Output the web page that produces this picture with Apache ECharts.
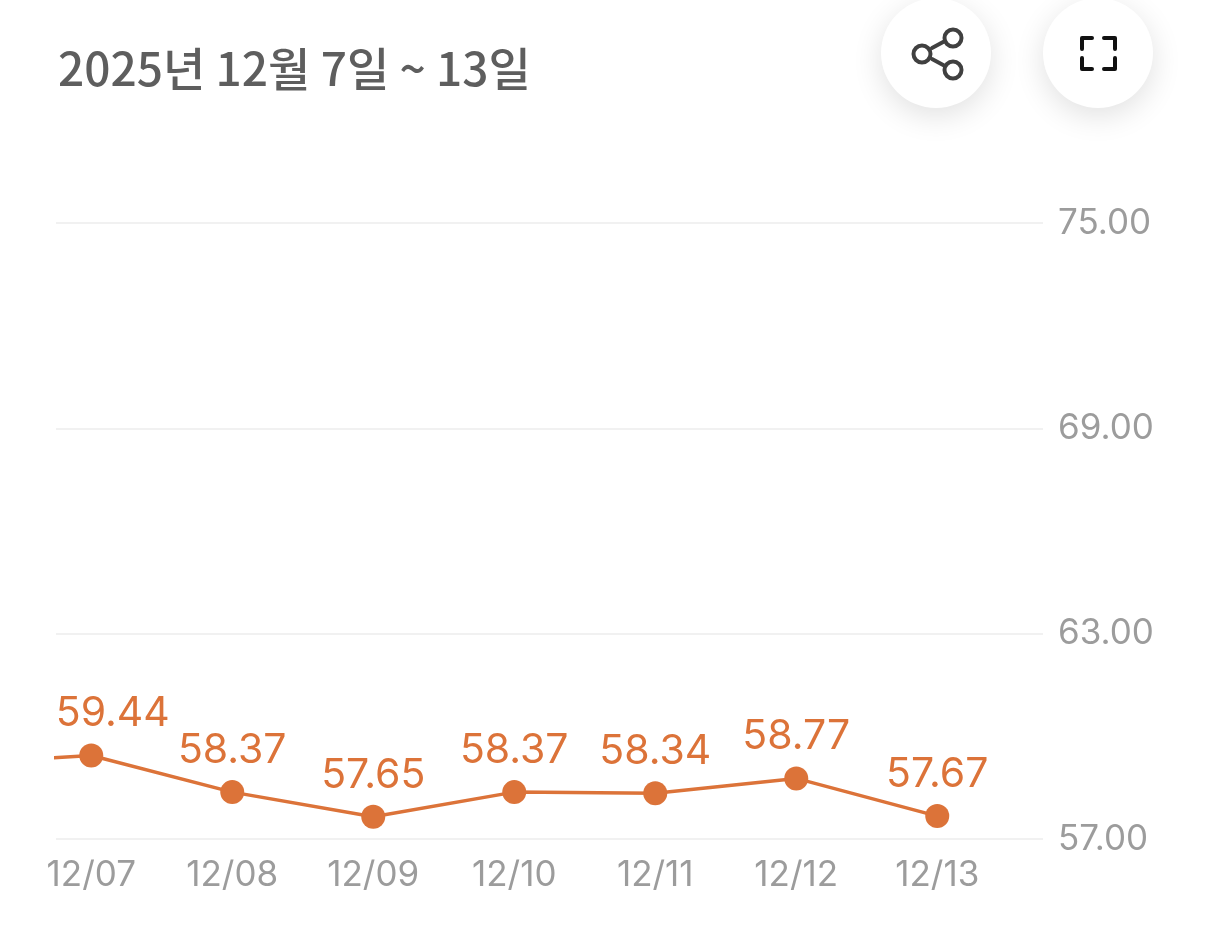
<!DOCTYPE html>
<html><head><meta charset="utf-8">
<style>html,body{margin:0;padding:0;background:#fff}#c{width:1206px;height:944px}</style>
<script src="https://cdn.jsdelivr.net/npm/echarts@6/dist/echarts.min.js"></script>
</head><body><div id="c"></div>
<script>
const titleText = '2025년 12월 7일 ~ 13일';
const categories = ['12/07','12/08','12/09','12/10','12/11','12/12','12/13'];
const values = [59.44,58.37,57.65,58.37,58.34,58.77,57.67];
const previousValue = 59.2; // point before the window, only its line segment is visible
const yTicks = [57,63,69,75];
const color = '#DC7339';
const font = 'Inter, "Noto Sans", sans-serif';
const chart = echarts.init(document.getElementById('c'), null, {renderer:'canvas'});
const idx = categories.map((_, i) => i);
const seriesData = [{value:[-1,previousValue], symbol:'none', label:{show:false}}]
  .concat(values.map((v,i)=> i===0 ? {value:[i,v],label:{offset:[21.5,0]}} : [i,v]));
const btn = (cx) => ({type:'circle',shape:{cx,cy:53,r:55},style:{fill:'#fff',shadowBlur:30,shadowColor:'rgba(0,0,0,0.12)',shadowOffsetY:8},silent:true,z:1});
const poly = (points,col,lw) => ({type:'polyline',shape:{points},style:{fill:'none',stroke:col,lineWidth:lw,lineCap:'round',lineJoin:'round'},silent:true,z:2});
const ring = (cx,cy) => ({type:'circle',shape:{cx,cy,r:8.5},style:{fill:'#fff',stroke:'#404040',lineWidth:4},silent:true,z:3});
chart.setOption({
  animation:false,
  backgroundColor:'#fff',
  title:{text:titleText,left:53,top:41,textStyle:{fontFamily:'"Noto Sans CJK KR"',fontSize:46,fontWeight:500,color:'#5E5E5E',letterSpacing:-2.4}},
  grid:{left:56,right:163,top:223,bottom:105,containLabel:false},
  xAxis:{type:'value',min:-0.25,max:6.75,
    axisLine:{show:false},axisTick:{show:false},splitLine:{show:false},
    axisLabel:{customValues:idx,formatter:v=>categories[v],color:'#9C9C9C',fontFamily:font,fontSize:35,fontWeight:400,margin:19,showMinLabel:true,showMaxLabel:true}},
  yAxis:{type:'value',position:'right',min:yTicks[0],max:yTicks[3],interval:6,
    axisLine:{show:false},axisTick:{show:false},
    splitLine:{show:true,lineStyle:{color:'#F1F1F1',width:2}},
    axisLabel:{formatter:v=>v.toFixed(2),color:'#9C9C9C',fontFamily:font,fontSize:35,fontWeight:400,margin:15,padding:[0,0,11,0]}},
  series:[{type:'line',data:seriesData,clip:true,smooth:false,
    symbol:'circle',symbolSize:24,showAllSymbols:true,
    lineStyle:{color,width:3.5},itemStyle:{color},
    label:{show:true,position:'top',distance:9,formatter:p=>p.value[1].toFixed(2),color,fontFamily:font,fontSize:41,fontWeight:400}}],
  graphic:{elements:[
    btn(936),btn(1098),
    poly([[932,48],[945,41]],'#404040',4),
    poly([[932,59],[945,66]],'#404040',4),
    ring(922,54),ring(953,38),ring(953,70),
    poly([[1082,49],[1082,38],[1092,38]],'#111',4),
    poly([[1104,38],[1115,38],[1115,49]],'#111',4),
    poly([[1115,58],[1115,69],[1104,69]],'#111',4),
    poly([[1092,69],[1082,69],[1082,58]],'#111',4)
  ]}
});
</script></body></html>
